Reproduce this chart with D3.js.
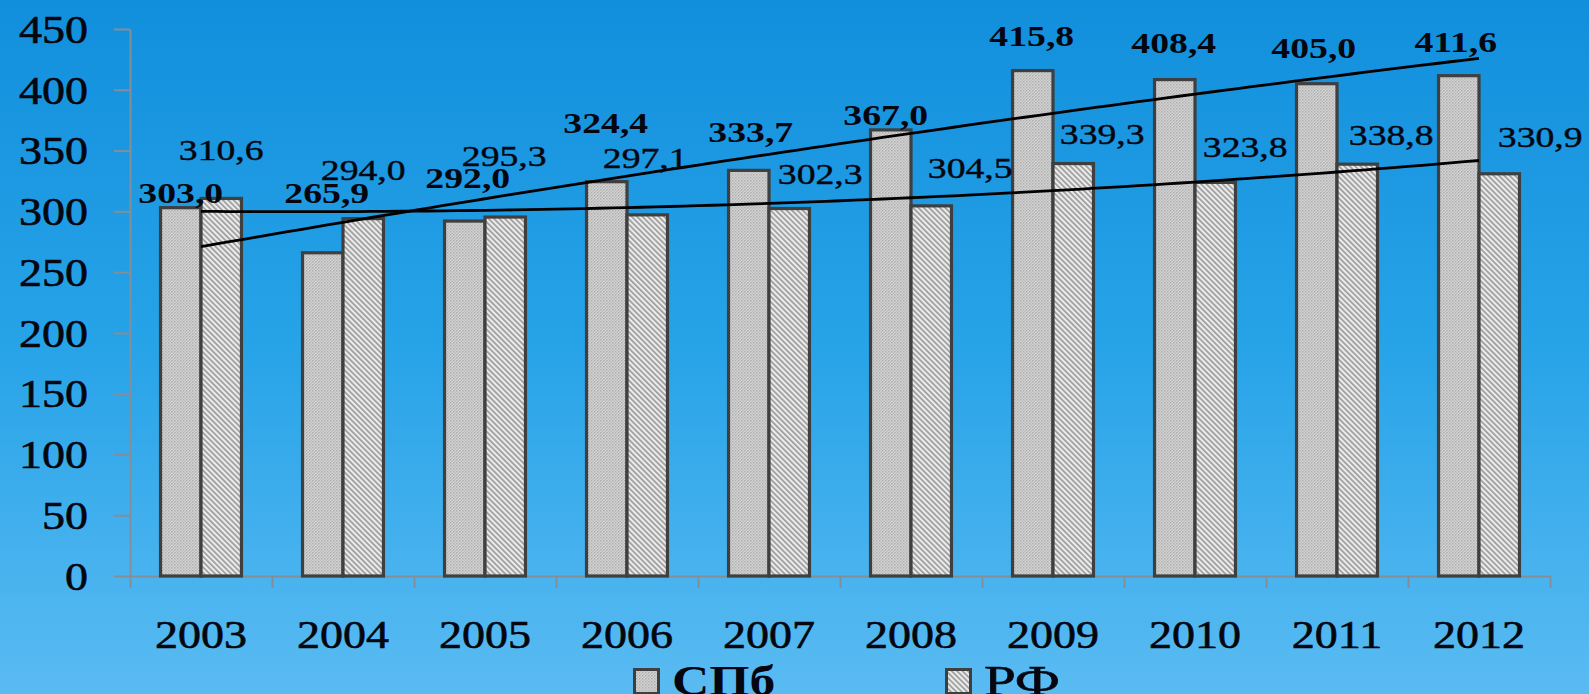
<!DOCTYPE html>
<html><head><meta charset="utf-8">
<script src="https://cdn.jsdelivr.net/npm/d3@7"></script>
<style>html,body{margin:0;padding:0;overflow:hidden;background:#2aa4e8}svg{display:block}</style>
</head><body>
<svg id="chart" width="1589" height="694"></svg>
<script>
// ---- data ----
const years = ['2003','2004','2005','2006','2007','2008','2009','2010','2011','2012'];
const spb = [303.0, 265.9, 292.0, 324.4, 333.7, 367.0, 415.8, 408.4, 405.0, 411.6];
const rf  = [310.6, 294.0, 295.3, 297.1, 302.3, 304.5, 339.3, 323.8, 338.8, 330.9];
const yTicks = [0, 50, 100, 150, 200, 250, 300, 350, 400, 450];
const seriesNames = ['СПб', 'РФ'];

// ---- layout (label nudges, px) ----
const spbLabelDx = [0, 4, 3, -1, 2, -5, -1, -1, -3, -3];
const spbLabelDy = [-5, -50, -33, -49, -28, -5, -25, -27, -26, -24];
const rfLabelDx  = [0, 0, -1, -2, 31, 39, 29, 30, 34, 41];
const rfLabelDy  = [-38, -39, -51, -47, -25, -28, -20, -25, -19, -27];

const W = 1589, H = 694;
const M = {left: 130, right: 1550, top: 29, bottom: 576};
const FONT = "'Liberation Serif','Times New Roman',serif";
const TXT = '#05060f';
const AXIS = '#858d96';

const svg = d3.select('#chart');
const defs = svg.append('defs');

const grad = defs.append('linearGradient').attr('id','bg').attr('x1',0).attr('y1',0).attr('x2',0).attr('y2',1);
grad.append('stop').attr('offset','0%').attr('stop-color','#128fdc');
grad.append('stop').attr('offset','50%').attr('stop-color','#27a3e8');
grad.append('stop').attr('offset','100%').attr('stop-color','#5abbf2');
svg.append('rect').attr('width',W).attr('height',H).attr('fill','url(#bg)');

// patterns
const pS = defs.append('pattern').attr('id','patS').attr('patternUnits','userSpaceOnUse').attr('width',3).attr('height',3);
pS.append('rect').attr('width',3).attr('height',3).attr('fill','#d4d4d4');
pS.append('rect').attr('width',1.5).attr('height',1.5).attr('fill','#aeaeae');
pS.append('rect').attr('x',1.5).attr('y',1.5).attr('width',1.5).attr('height',1.5).attr('fill','#bcbcbc');

const pR = defs.append('pattern').attr('id','patR').attr('patternUnits','userSpaceOnUse')
  .attr('width',3.8).attr('height',10).attr('patternTransform','rotate(-45)');
pR.append('rect').attr('width',3.8).attr('height',10).attr('fill','#ececec');
pR.append('rect').attr('width',1.7).attr('height',10).attr('fill','#9c9c9c');

const patterns = ['url(#patS)','url(#patR)'];

// scales
const x0 = d3.scaleBand().domain(years).range([M.left, M.right]).paddingInner(0.43).paddingOuter(0.215);
const x1 = d3.scaleBand().domain([0,1]).range([0, x0.bandwidth()]);
const y = d3.scaleLinear().domain([0, 450]).range([M.bottom, M.top]);
const xb = d3.scaleLinear().domain([0, years.length]).range([M.left, M.right]);
const xi = d3.scaleLinear().domain([0, years.length-1])
  .range([x0(years[0]) + x0.bandwidth()/2, x0(years[years.length-1]) + x0.bandwidth()/2]);

// y axis
const yAxis = svg.append('g').attr('transform',`translate(${M.left},0)`)
  .call(d3.axisLeft(y).tickValues(yTicks).tickSize(16).tickSizeOuter(0));
yAxis.select('.domain').attr('stroke',AXIS).attr('stroke-width',2);
yAxis.selectAll('.tick line').attr('stroke',AXIS).attr('stroke-width',2);
const ySX = 1.18;
yAxis.selectAll('.tick text')
  .attr('x', -42/ySX).attr('dy','0.34em')
  .attr('transform',`scale(${ySX},1)`)
  .attr('text-anchor','end')
  .style('font-family',FONT).style('font-size','39px').attr('fill',TXT)
  .attr('stroke',TXT).attr('stroke-width',0.6);

// x axis boundary ticks
const xAxisB = svg.append('g').attr('transform',`translate(0,${M.bottom})`)
  .call(d3.axisBottom(xb).tickValues(d3.range(0, years.length+1)).tickSize(12).tickSizeOuter(0).tickFormat(''));
xAxisB.select('.domain').attr('stroke',AXIS).attr('stroke-width',2);
xAxisB.selectAll('.tick line').attr('stroke',AXIS).attr('stroke-width',2);

// x labels
const xSX = 1.18;
const xAxisL = svg.append('g').attr('transform',`translate(0,${M.bottom})`)
  .call(d3.axisBottom(x0).tickSize(0));
xAxisL.select('.domain').remove();
xAxisL.selectAll('.tick text')
  .attr('y', 72).attr('dy', 0)
  .attr('transform',`scale(${xSX},1)`)
  .style('font-family',FONT).style('font-size','39px').attr('fill',TXT)
  .attr('stroke',TXT).attr('stroke-width',0.6);

// bars
const series = [spb, rf];
const gBars = svg.append('g');
years.forEach((yr, i) => {
  series.forEach((vals, s) => {
    gBars.append('rect')
      .attr('x', x0(yr) + x1(s))
      .attr('y', y(vals[i]))
      .attr('width', x1.bandwidth())
      .attr('height', y(0) - y(vals[i]))
      .attr('fill', patterns[s])
      .attr('stroke', '#3f3f3f')
      .attr('stroke-width', 3.2);
  });
});

// polynomial (2nd order) trend lines
function quadFit(vals){
  const S=[0,0,0,0,0], T=[0,0,0];
  vals.forEach((v,i)=>{ for(let k=0;k<5;k++) S[k]+=Math.pow(i,k); for(let k=0;k<3;k++) T[k]+=v*Math.pow(i,k); });
  const A=[[S[0],S[1],S[2],T[0]],[S[1],S[2],S[3],T[1]],[S[2],S[3],S[4],T[2]]];
  for(let c=0;c<3;c++) for(let r=c+1;r<3;r++){ const f=A[r][c]/A[c][c]; for(let k=c;k<4;k++) A[r][k]-=f*A[c][k]; }
  const co=[0,0,0];
  for(let r=2;r>=0;r--){ let s=A[r][3]; for(let k=r+1;k<3;k++) s-=A[r][k]*co[k]; co[r]=s/A[r][r]; }
  return t => co[0] + co[1]*t + co[2]*t*t;
}
const line = d3.line().x(d=>xi(d.t)).y(d=>y(d.v)).curve(d3.curveLinear);
series.forEach(vals => {
  const f = quadFit(vals);
  const pts = d3.range(0, years.length - 1 + 1e-9, 0.1).map(t => ({t, v: f(t)}));
  svg.append('path').attr('d', line(pts)).attr('fill','none').attr('stroke','#000').attr('stroke-width',2.8);
});

// data labels
const fmt = v => v.toFixed(1).replace('.', ',');
const lSX = 1.3;
const gLab = svg.append('g').style('font-family',FONT).style('font-size','29px').attr('fill',TXT);
years.forEach((yr, i) => {
  const cxS = x0(yr) + x1(0) + x1.bandwidth()/2 + spbLabelDx[i];
  const cyS = y(spb[i]) + spbLabelDy[i];
  gLab.append('text').attr('transform',`translate(${cxS},${cyS}) scale(${lSX},1)`)
    .attr('text-anchor','middle').style('font-weight','bold').text(fmt(spb[i]));
  const cxR = x0(yr) + x1(1) + x1.bandwidth()/2 + rfLabelDx[i];
  const cyR = y(rf[i]) + rfLabelDy[i];
  gLab.append('text').attr('transform',`translate(${cxR},${cyR}) scale(${lSX},1)`)
    .attr('text-anchor','middle').attr('stroke',TXT).attr('stroke-width',0.4).text(fmt(rf[i]));
});

// legend
const legX = [633, 945];
const legWeight = ['bold', 'normal'];
const legSX = [1.23, 1.36];
const gLeg = svg.append('g');
seriesNames.forEach((name, s) => {
  gLeg.append('rect').attr('x', legX[s] + 1.5).attr('y', 669.5).attr('width', 24).attr('height', 24)
    .attr('fill', patterns[s]).attr('stroke','#3f3f3f').attr('stroke-width',3);
  gLeg.append('text').attr('transform',`translate(${legX[s] + 39},695) scale(${legSX[s]},1)`)
    .style('font-family',FONT).style('font-size','42px').style('font-weight',legWeight[s]).attr('fill',TXT)
    .attr('stroke',TXT).attr('stroke-width', s === 1 ? 0.6 : 0)
    .text(name);
});
</script>
</body></html>
